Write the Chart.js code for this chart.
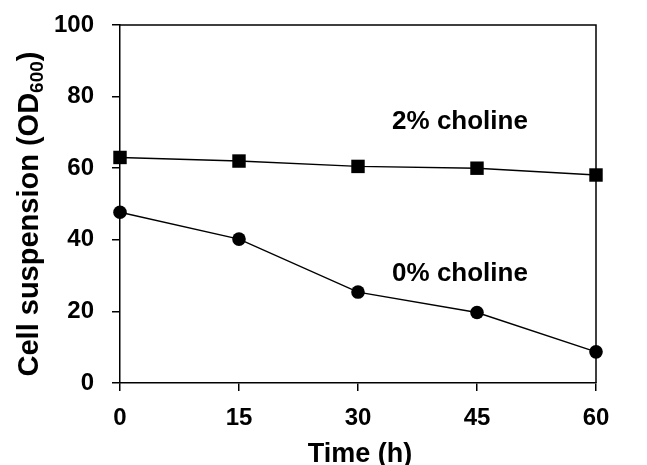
<!DOCTYPE html>
<html>
<head>
<meta charset="utf-8">
<script src="https://cdn.jsdelivr.net/npm/chart.js@4/dist/chart.umd.min.js"></script>
<style>
  html, body { margin: 0; padding: 0; background: #fff; }
  #wrap { width: 647px; height: 465px; }
</style>
</head>
<body>
<div id="wrap"><canvas id="chart" width="647" height="465"></canvas></div>
<script>
// ================= DATA =================
const times = [0, 15, 30, 45, 60];
const choline2 = [63.0, 62.0, 60.5, 60.0, 58.1];
const choline0 = [47.7, 40.2, 25.4, 19.7, 8.7];
const xTicks = [0, 15, 30, 45, 60];
const yTicks = [0, 20, 40, 60, 80, 100];
const seriesLabels = ["2% choline", "0% choline"];

const FONT = "'Liberation Sans', Arial, Helvetica, sans-serif";

function toPoints(values) {
  return times.map((t, i) => ({ x: t, y: values[i] }));
}

// ================= EXTRAS (frame, labels, titles) =================
const extras = {
  id: "extras",
  beforeDatasetsDraw(chart) {
    const { ctx, chartArea: a } = chart;
    ctx.save();
    ctx.strokeStyle = "#000";
    ctx.lineWidth = 1.5;
    ctx.beginPath();
    ctx.moveTo(a.left, a.top);
    ctx.lineTo(a.right, a.top);
    ctx.lineTo(a.right, a.bottom);
    ctx.stroke();
    ctx.restore();
  },
  afterDraw(chart) {
    const { ctx } = chart;
    ctx.save();
    ctx.fillStyle = "#000";

    // series labels
    ctx.font = "bold 26px " + FONT;
    ctx.textAlign = "center";
    ctx.textBaseline = "alphabetic";
    ctx.fillText(seriesLabels[0], 460, 129);
    ctx.fillText(seriesLabels[1], 460, 281);

    // x title
    ctx.font = "bold 27px " + FONT;
    ctx.fillText("Time (h)", 360, 462);

    // y title with subscript
    ctx.translate(38, 214);
    ctx.rotate(-Math.PI / 2);
    const big = "bold 29px " + FONT;
    const small = "bold 19px " + FONT;
    const p1 = "Cell suspension (OD", p2 = "600", p3 = ")";
    ctx.font = big; const w1 = ctx.measureText(p1).width, w3 = ctx.measureText(p3).width;
    ctx.font = small; const w2 = ctx.measureText(p2).width;
    let x = -(w1 + w2 + w3) / 2;
    ctx.textAlign = "left";
    ctx.font = big; ctx.fillText(p1, x, 0); x += w1;
    ctx.font = small; ctx.fillText(p2, x, 5); x += w2;
    ctx.font = big; ctx.fillText(p3, x, 0);
    ctx.restore();
  }
};

// ================= CHART =================
const tickFont = { family: FONT, size: 24, weight: "bold" };

new Chart(document.getElementById("chart"), {
  type: "scatter",
  data: {
    datasets: [
      {
        label: seriesLabels[0],
        data: toPoints(choline2),
        showLine: true,
        borderColor: "#000",
        borderWidth: 1.4,
        pointStyle: "rect",
        pointRadius: 9.5,
        pointBackgroundColor: "#000",
        pointBorderColor: "#000",
        pointBorderWidth: 0,
        clip: false
      },
      {
        label: seriesLabels[1],
        data: toPoints(choline0),
        showLine: true,
        borderColor: "#000",
        borderWidth: 1.4,
        pointStyle: "circle",
        pointRadius: 6.8,
        pointBackgroundColor: "#000",
        pointBorderColor: "#000",
        pointBorderWidth: 0,
        clip: false
      }
    ]
  },
  options: {
    responsive: false,
    animation: false,
    layout: { padding: { left: 0, top: 25, right: 51, bottom: 0 } },
    plugins: { legend: { display: false }, tooltip: { enabled: false } },
    scales: {
      x: {
        type: "linear",
        min: 0,
        max: 60,
        afterBuildTicks: s => { s.ticks = xTicks.map(v => ({ value: v })); },
        afterFit: s => { s.height = 82; s.paddingLeft = 0; s.paddingRight = 0; },
        ticks: { font: tickFont, color: "#000", padding: 13, maxRotation: 0 },
        grid: { drawOnChartArea: false, drawTicks: true, tickLength: 8, color: "#000", lineWidth: 1.5 },
        border: { display: true, color: "#000", width: 1.5 }
      },
      y: {
        min: 0,
        max: 100,
        afterBuildTicks: s => { s.ticks = yTicks.map(v => ({ value: v })); },
        afterFit: s => { s.width = 120; s.paddingTop = 0; s.paddingBottom = 0; },
        ticks: { font: tickFont, color: "#000", padding: 18 },
        grid: { drawOnChartArea: false, drawTicks: true, tickLength: 8, color: "#000", lineWidth: 1.5 },
        border: { display: true, color: "#000", width: 1.5 }
      }
    }
  },
  plugins: [extras]
});
</script>
</body>
</html>
